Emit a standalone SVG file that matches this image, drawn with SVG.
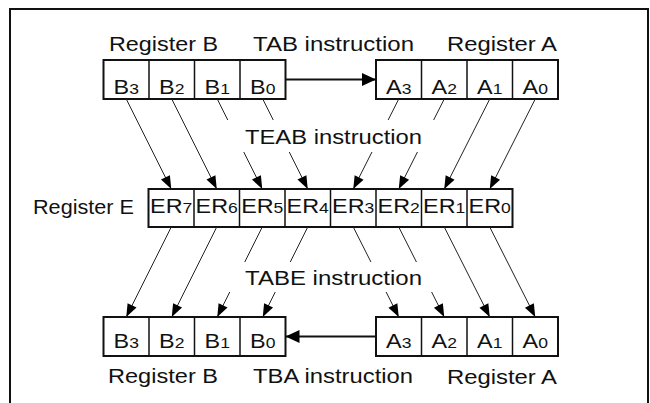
<svg xmlns="http://www.w3.org/2000/svg" width="650" height="403" viewBox="0 0 650 403">
<style>
.lbl{font-family:"Liberation Sans",Arial,sans-serif;font-size:20px;fill:#111}
.cell{font-family:"Liberation Sans",Arial,sans-serif;font-size:20px;fill:#111;text-anchor:middle}
.sub{font-size:15px}
.box{fill:#fff;stroke:#111;stroke-width:2}
.div{stroke:#111;stroke-width:1.5}
.thin{stroke:#222;stroke-width:1;fill:none}
.thick{stroke:#111;stroke-width:2;fill:none}
</style>
<defs>
<marker id="ah" markerUnits="userSpaceOnUse" markerWidth="13" markerHeight="10" refX="13" refY="5" orient="auto" overflow="visible">
<path d="M0,0 L13,5 L0,10 z" fill="#000"/>
</marker>
<marker id="ahb" markerUnits="userSpaceOnUse" markerWidth="14" markerHeight="13" refX="14" refY="6.5" orient="auto" overflow="visible">
<path d="M0,0 L14,6.5 L0,13 z" fill="#000"/>
</marker>
</defs>
<rect x="10" y="9" width="638" height="420" fill="#fff" stroke="#111" stroke-width="2"/>

<g id="regB-top">
<rect class="box" x="103.5" y="60" width="182" height="39"/>
<line class="div" x1="149" y1="60" x2="149" y2="99"/>
<line class="div" x1="194.5" y1="60" x2="194.5" y2="99"/>
<line class="div" x1="240" y1="60" x2="240" y2="99"/>
<g transform="scale(1.17 1)">
<text class="cell" x="107.91" y="94">B<tspan class="sub">3</tspan></text>
<text class="cell" x="146.79" y="94">B<tspan class="sub">2</tspan></text>
<text class="cell" x="185.68" y="94">B<tspan class="sub">1</tspan></text>
<text class="cell" x="224.57" y="94">B<tspan class="sub">0</tspan></text>
</g>
<text class="lbl" x="109" y="51" textLength="109" lengthAdjust="spacingAndGlyphs">Register B</text>
</g>

<g id="regA-top">
<rect class="box" x="376" y="60" width="182" height="39"/>
<line class="div" x1="421.5" y1="60" x2="421.5" y2="99"/>
<line class="div" x1="467" y1="60" x2="467" y2="99"/>
<line class="div" x1="512.5" y1="60" x2="512.5" y2="99"/>
<g transform="scale(1.17 1)">
<text class="cell" x="340.81" y="94">A<tspan class="sub">3</tspan></text>
<text class="cell" x="379.70" y="94">A<tspan class="sub">2</tspan></text>
<text class="cell" x="418.59" y="94">A<tspan class="sub">1</tspan></text>
<text class="cell" x="457.48" y="94">A<tspan class="sub">0</tspan></text>
</g>
<text class="lbl" x="447" y="51" textLength="110" lengthAdjust="spacingAndGlyphs">Register A</text>
</g>

<g id="regE">
<rect class="box" x="148.5" y="189" width="364" height="38"/>
<line class="div" x1="194" y1="189" x2="194" y2="227"/>
<line class="div" x1="239.5" y1="189" x2="239.5" y2="227"/>
<line class="div" x1="285" y1="189" x2="285" y2="227"/>
<line class="div" x1="330.5" y1="189" x2="330.5" y2="227"/>
<line class="div" x1="376" y1="189" x2="376" y2="227"/>
<line class="div" x1="421.5" y1="189" x2="421.5" y2="227"/>
<line class="div" x1="467" y1="189" x2="467" y2="227"/>
<g transform="scale(1.17 1)">
<text class="cell" x="146.37" y="213.5">ER<tspan class="sub">7</tspan></text>
<text class="cell" x="185.26" y="213.5">ER<tspan class="sub">6</tspan></text>
<text class="cell" x="224.15" y="213.5">ER<tspan class="sub">5</tspan></text>
<text class="cell" x="263.03" y="213.5">ER<tspan class="sub">4</tspan></text>
<text class="cell" x="301.92" y="213.5">ER<tspan class="sub">3</tspan></text>
<text class="cell" x="340.81" y="213.5">ER<tspan class="sub">2</tspan></text>
<text class="cell" x="379.70" y="213.5">ER<tspan class="sub">1</tspan></text>
<text class="cell" x="418.59" y="213.5">ER<tspan class="sub">0</tspan></text>
</g>
<text class="lbl" x="33" y="214" textLength="101" lengthAdjust="spacingAndGlyphs">Register E</text>
</g>

<g id="regB-bottom">
<rect class="box" x="103.5" y="317" width="182" height="39"/>
<line class="div" x1="149" y1="317" x2="149" y2="356"/>
<line class="div" x1="194.5" y1="317" x2="194.5" y2="356"/>
<line class="div" x1="240" y1="317" x2="240" y2="356"/>
<g transform="scale(1.17 1)">
<text class="cell" x="107.91" y="348">B<tspan class="sub">3</tspan></text>
<text class="cell" x="146.79" y="348">B<tspan class="sub">2</tspan></text>
<text class="cell" x="185.68" y="348">B<tspan class="sub">1</tspan></text>
<text class="cell" x="224.57" y="348">B<tspan class="sub">0</tspan></text>
</g>
<text class="lbl" x="108" y="383" textLength="110" lengthAdjust="spacingAndGlyphs">Register B</text>
</g>

<g id="regA-bottom">
<rect class="box" x="376" y="317" width="182" height="39"/>
<line class="div" x1="421.5" y1="317" x2="421.5" y2="356"/>
<line class="div" x1="467" y1="317" x2="467" y2="356"/>
<line class="div" x1="512.5" y1="317" x2="512.5" y2="356"/>
<g transform="scale(1.17 1)">
<text class="cell" x="340.81" y="348">A<tspan class="sub">3</tspan></text>
<text class="cell" x="379.70" y="348">A<tspan class="sub">2</tspan></text>
<text class="cell" x="418.59" y="348">A<tspan class="sub">1</tspan></text>
<text class="cell" x="457.48" y="348">A<tspan class="sub">0</tspan></text>
</g>
<text class="lbl" x="447" y="384" textLength="110" lengthAdjust="spacingAndGlyphs">Register A</text>
</g>

<g id="labels">
<text class="lbl" x="253" y="51" textLength="161" lengthAdjust="spacingAndGlyphs">TAB instruction</text>
<text class="lbl" x="245" y="144" textLength="177" lengthAdjust="spacingAndGlyphs">TEAB instruction</text>
<text class="lbl" x="245" y="285" textLength="177" lengthAdjust="spacingAndGlyphs">TABE instruction</text>
<text class="lbl" x="253" y="383" textLength="160" lengthAdjust="spacingAndGlyphs">TBA instruction</text>
</g>

<g id="connectors">
<line class="thick" x1="285.5" y1="79.5" x2="376" y2="79.5" marker-end="url(#ahb)"/>
<line class="thick" x1="376" y1="336.5" x2="285.5" y2="336.5" marker-end="url(#ahb)"/>

<line class="thin" x1="126.25" y1="99" x2="171.25" y2="189" marker-end="url(#ah)"/>
<line class="thin" x1="171.75" y1="99" x2="216.75" y2="189" marker-end="url(#ah)"/>
<line class="thin" x1="217.25" y1="99" x2="227.75" y2="120"/>
<line class="thin" x1="243.75" y1="152" x2="262.25" y2="189" marker-end="url(#ah)"/>
<line class="thin" x1="262.75" y1="99" x2="273.25" y2="120"/>
<line class="thin" x1="289.25" y1="152" x2="307.75" y2="189" marker-end="url(#ah)"/>
<line class="thin" x1="398.75" y1="99" x2="388.13" y2="120"/>
<line class="thin" x1="371.96" y1="152" x2="353.25" y2="189" marker-end="url(#ah)"/>
<line class="thin" x1="444.25" y1="99" x2="433.63" y2="120"/>
<line class="thin" x1="417.46" y1="152" x2="398.75" y2="189" marker-end="url(#ah)"/>
<line class="thin" x1="489.75" y1="99" x2="444.25" y2="189" marker-end="url(#ah)"/>
<line class="thin" x1="535.25" y1="99" x2="489.75" y2="189" marker-end="url(#ah)"/>

<line class="thin" x1="171.25" y1="227" x2="126.25" y2="317" marker-end="url(#ah)"/>
<line class="thin" x1="216.75" y1="227" x2="171.75" y2="317" marker-end="url(#ah)"/>
<line class="thin" x1="262.25" y1="227" x2="244.75" y2="262"/>
<line class="thin" x1="229.75" y1="292" x2="217.25" y2="317" marker-end="url(#ah)"/>
<line class="thin" x1="307.75" y1="227" x2="290.25" y2="262"/>
<line class="thin" x1="275.25" y1="292" x2="262.75" y2="317" marker-end="url(#ah)"/>
<line class="thin" x1="353.25" y1="227" x2="370.94" y2="262"/>
<line class="thin" x1="386.11" y1="292" x2="398.75" y2="317" marker-end="url(#ah)"/>
<line class="thin" x1="398.75" y1="227" x2="416.44" y2="262"/>
<line class="thin" x1="431.61" y1="292" x2="444.25" y2="317" marker-end="url(#ah)"/>
<line class="thin" x1="444.25" y1="227" x2="489.75" y2="317" marker-end="url(#ah)"/>
<line class="thin" x1="489.75" y1="227" x2="535.25" y2="317" marker-end="url(#ah)"/>
</g>
</svg>
